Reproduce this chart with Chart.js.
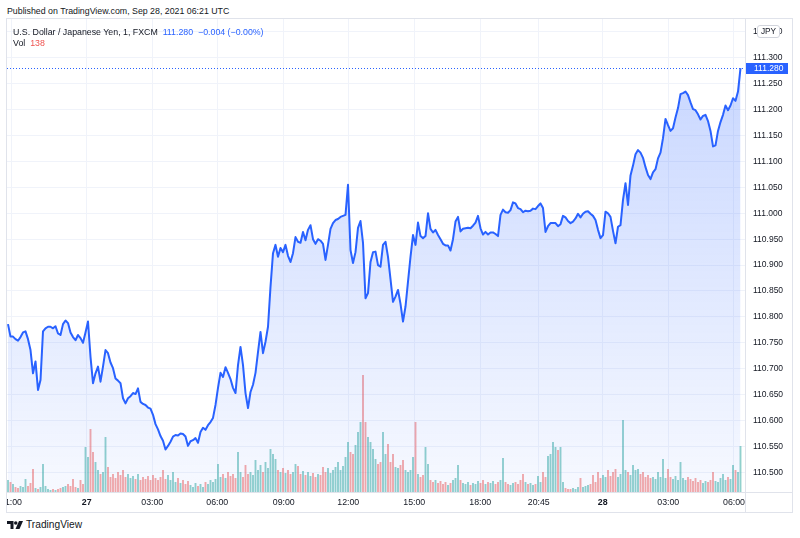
<!DOCTYPE html>
<html>
<head>
<meta charset="utf-8">
<script src="https://cdn.jsdelivr.net/npm/chart.js@4.4.0/dist/chart.umd.min.js"></script>
<style>
  html, body { margin:0; padding:0; background:#fff; width:800px; height:538px; overflow:hidden; }
  body { position:relative; font-family:"Liberation Sans", Arial, sans-serif; color:#131722; }
  #pub { position:absolute; left:7px; top:6px; font-size:8.8px; white-space:nowrap; }
  #box { position:absolute; left:6px; top:18px; width:785px; height:493px; border:1px solid #e0e3eb; }
  #box canvas { position:absolute; left:0; top:0; }
  #legend1, #legend2 { position:absolute; left:13px; font-size:8.8px; white-space:nowrap; }
  #legend1 { top:27px; }
  #legend2 { top:38px; }
  .blue { color:#2962ff; }
  .red { color:#ef5350; }
  #jpy { position:absolute; left:757px; top:25px; width:21px; height:11px; line-height:11px; border:1px solid #d1d4dc; border-radius:3px; background:#fff; font-size:8.3px; text-align:center; }
  #logo { position:absolute; left:7px; top:519px; font-size:10.2px; white-space:nowrap; display:flex; align-items:center; }
  #logo svg { margin-right:3px; }
</style>
</head>
<body>
<div id="pub">Published on TradingView.com, Sep 28, 2021 06:21 UTC</div>
<div id="box"><canvas id="c" width="785" height="493"></canvas></div>
<div id="legend1">U.S. Dollar / Japanese Yen, 1, FXCM&nbsp; <span class="blue" id="lastPrice"></span>&nbsp; <span class="blue">−0.004 (−0.00%)</span></div>
<div id="legend2">Vol&nbsp; <span class="red" id="lastVol"></span></div>
<div id="jpy">JPY</div>
<div id="logo"><svg width="16" height="8" viewBox="0 0 32 16"><path d="M0 0h13v16H7V6H0z" fill="#131722"/><circle cx="17.5" cy="4" r="3.5" fill="#131722"/><path d="M24 0h8l-7 16h-8z" fill="#131722"/></svg><span>TradingView</span></div>
<script>
// ---- data ----
const tickLabels = ["21:00","27","03:00","06:00","09:00","12:00","15:00","18:00","20:45","28","03:00","06:00"];
const tickAt = [1.2,31.5,57.7,83.7,110.3,136.1,162.5,188.9,212.3,237.9,264.1,290.4];
const priceTicks = [110.5,110.55,110.6,110.65,110.7,110.75,110.8,110.85,110.9,110.95,111.0,111.05,111.1,111.15,111.2,111.25,111.3,111.35];
const price = [
110.786,110.762,110.762,110.757,110.754,110.761,110.770,110.772,110.757,110.736,
110.691,110.714,110.659,110.678,110.772,110.778,110.781,110.781,110.778,110.782,
110.768,110.765,110.786,110.793,110.788,110.770,110.761,110.755,110.765,110.759,
110.750,110.770,110.791,110.723,110.672,110.691,110.704,110.675,110.704,110.736,
110.730,110.712,110.701,110.681,110.677,110.672,110.643,110.633,110.643,110.647,
110.653,110.651,110.662,110.636,110.632,110.630,110.625,110.623,110.611,110.593,
110.583,110.570,110.561,110.544,110.551,110.559,110.569,110.572,110.571,110.575,
110.574,110.569,110.551,110.560,110.562,110.566,110.557,110.578,110.586,110.582,
110.591,110.597,110.605,110.630,110.663,110.692,110.684,110.703,110.692,110.680,
110.663,110.653,110.707,110.742,110.707,110.653,110.624,110.655,110.669,110.692,
110.732,110.771,110.730,110.752,110.781,110.858,110.923,110.939,110.916,110.933,
110.925,110.939,110.918,110.906,110.923,110.954,110.945,110.943,110.964,110.948,
110.968,110.977,110.950,110.941,110.950,110.947,110.941,110.910,110.939,110.970,
110.981,110.987,110.989,110.993,110.995,110.997,111.055,110.929,110.904,110.925,
110.972,110.985,110.943,110.836,110.846,110.906,110.925,110.926,110.900,110.897,
110.939,110.945,110.916,110.873,110.829,110.839,110.852,110.825,110.791,110.820,
110.868,110.916,110.958,110.939,110.982,110.956,110.952,110.956,111.000,110.970,
110.963,110.968,110.958,110.950,110.941,110.938,110.938,110.928,110.950,110.984,
110.993,110.965,110.970,110.971,110.972,110.971,110.976,110.982,110.995,110.971,
110.959,110.964,110.959,110.963,110.963,110.960,110.956,110.997,111.007,111.002,
111.001,111.006,111.021,111.019,111.010,111.008,111.002,111.005,111.004,111.005,
111.009,111.008,111.014,111.019,111.010,110.964,110.975,110.981,110.981,110.981,
110.975,110.979,110.995,110.992,110.985,110.981,110.984,110.990,110.999,110.992,
110.999,111.003,111.004,110.999,110.995,110.987,110.968,110.952,110.958,111.003,
111.000,110.993,110.966,110.942,110.974,110.977,111.026,111.058,111.016,111.073,
111.092,111.114,111.122,111.117,111.107,111.089,111.074,111.066,111.079,111.085,
111.106,111.117,111.145,111.182,111.170,111.159,111.164,111.185,111.203,111.230,
111.232,111.235,111.228,111.214,111.201,111.199,111.191,111.181,111.188,111.190,
111.178,111.159,111.129,111.131,111.159,111.176,111.190,111.208,111.199,111.208,
111.222,111.217,111.235,111.280];
const volume = [
36,30,24,15,12,18,15,39,18,27,69,12,9,15,84,18,9,6,9,6,
9,12,15,18,24,18,39,15,12,36,24,135,105,189,120,90,66,54,60,165,
75,45,54,42,60,51,66,45,54,42,48,39,54,36,45,39,48,36,51,42,
36,45,66,39,51,36,60,30,42,27,36,24,33,21,15,27,18,24,15,30,
24,36,30,39,84,45,54,42,60,48,54,42,120,60,45,81,54,60,51,96,
66,81,60,90,72,129,114,99,66,60,72,57,66,54,60,84,78,54,63,51,
60,48,57,45,54,51,75,60,72,57,66,75,90,66,78,105,150,120,114,141,
180,210,351,210,165,150,129,99,84,90,180,114,144,90,114,75,72,81,96,66,
60,66,105,210,54,45,51,135,84,36,30,36,27,33,24,30,21,27,36,42,
81,36,27,24,30,21,27,24,33,27,36,24,30,27,33,24,30,36,102,30,
24,21,27,30,24,36,54,30,24,27,21,24,48,30,60,45,108,114,150,135,
126,135,30,12,9,9,12,9,15,42,15,18,21,24,51,30,60,42,51,45,
66,48,60,69,45,54,216,66,60,51,81,66,69,54,60,45,51,42,45,39,
60,45,99,42,69,45,39,48,36,90,42,36,45,39,33,42,30,36,27,33,
30,36,60,33,30,42,54,36,45,39,81,66,60,138];
const priceMin = 110.462, priceMax = 111.375;
const volMax = 1419;

// ---- chart ----
const idx = price.map((_, i) => i);
const volColors = volume.map((_, i) => (i === 0 || price[i] >= price[i-1]) ? 'rgba(38,166,154,0.5)' : 'rgba(239,83,80,0.5)');
document.getElementById('lastPrice').textContent = price[price.length-1].toFixed(3);
document.getElementById('lastVol').textContent = String(volume[volume.length-1]);

const FONT = '"Liberation Sans", Arial, sans-serif';

const framePlugin = {
  id: 'frame',
  beforeDatasetsDraw(chart) {
    const {ctx, chartArea: a, scales} = chart;
    const y = Math.round(scales.y.getPixelForValue(price[price.length-1])) + 0.5;
    ctx.save();
    ctx.strokeStyle = '#2962ff';
    ctx.lineWidth = 1;
    ctx.setLineDash([1, 2]);
    ctx.beginPath(); ctx.moveTo(a.left, y); ctx.lineTo(a.right, y); ctx.stroke();
    ctx.restore();
  },
  afterDraw(chart) {
    const {ctx, chartArea: a, scales, width, height} = chart;
    ctx.save();
    ctx.strokeStyle = '#e0e3eb';
    ctx.lineWidth = 1;
    ctx.beginPath();
    ctx.moveTo(a.right + 0.5, 0); ctx.lineTo(a.right + 0.5, height);
    ctx.moveTo(0, a.bottom + 0.5); ctx.lineTo(width, a.bottom + 0.5);
    ctx.stroke();
    const last = price[price.length-1];
    const y = scales.y.getPixelForValue(last);
    ctx.fillStyle = '#2962ff';
    ctx.fillRect(a.right + 1, Math.round(y) - 5, 42, 11);
    ctx.fillStyle = '#ffffff';
    ctx.font = '8.5px ' + FONT;
    ctx.textBaseline = 'middle';
    ctx.textAlign = 'left';
    ctx.fillText(last.toFixed(3), a.right + 9, Math.round(y) + 0.5);
    ctx.restore();
  }
};

new Chart(document.getElementById('c'), {
  type: 'line',
  data: {
    datasets: [
      {
        type: 'line',
        data: idx.map(i => ({x: i, y: price[i]})),
        borderColor: '#2962ff',
        borderWidth: 2,
        pointRadius: 0,
        tension: 0,
        borderJoinStyle: 'round',
        fill: 'start',
        backgroundColor: (c) => {
          const {ctx, chartArea} = c.chart;
          if (!chartArea) return 'rgba(41,98,255,0.12)';
          const g = ctx.createLinearGradient(0, chartArea.top, 0, chartArea.bottom);
          g.addColorStop(0, 'rgba(41,98,255,0.28)');
          g.addColorStop(1, 'rgba(41,98,255,0.04)');
          return g;
        },
        yAxisID: 'y',
        order: 0
      },
      {
        type: 'bar',
        data: idx.map(i => ({x: i, y: volume[i]})),
        backgroundColor: volColors,
        borderWidth: 0,
        barPercentage: 0.75,
        categoryPercentage: 1,
        yAxisID: 'v',
        order: 1
      }
    ]
  },
  options: {
    responsive: false,
    animation: false,
    events: [],
    layout: { padding: 0 },
    plugins: { legend: { display: false }, tooltip: { enabled: false } },
    scales: {
      x: {
        type: 'linear',
        min: -0.4,
        max: 294.8,
        offset: false,
        afterBuildTicks: s => { s.ticks = tickAt.map(v => ({value: v})); },
        afterFit: s => { s.height = 20; s.paddingLeft = 0; s.paddingRight = 0; },
        grid: { color: '#f0f3fa', drawTicks: false, offset: false },
        border: { display: false },
        ticks: {
          autoSkip: false,
          maxRotation: 0,
          padding: 5,
          color: '#131722',
          font: (c) => ({ family: FONT, size: 8.8, weight: (tickLabels[c.index] || '').includes(':') ? 'normal' : 'bold' }),
          callback: (v, i) => tickLabels[i]
        }
      },
      y: {
        type: 'linear',
        position: 'right',
        min: priceMin,
        max: priceMax,
        afterBuildTicks: s => { s.ticks = priceTicks.map(v => ({value: v})); },
        afterFit: s => { s.width = 47; s.paddingTop = 0; s.paddingBottom = 0; },
        grid: { color: '#f0f3fa', drawTicks: false },
        border: { display: false },
        ticks: {
          autoSkip: false,
          padding: 8,
          color: '#131722',
          font: { family: FONT, size: 8.5 },
          callback: v => Number(v).toFixed(3)
        }
      },
      v: {
        type: 'linear',
        display: false,
        min: 0,
        max: volMax
      }
    }
  },
  plugins: [framePlugin]
});
</script>
</body>
</html>
